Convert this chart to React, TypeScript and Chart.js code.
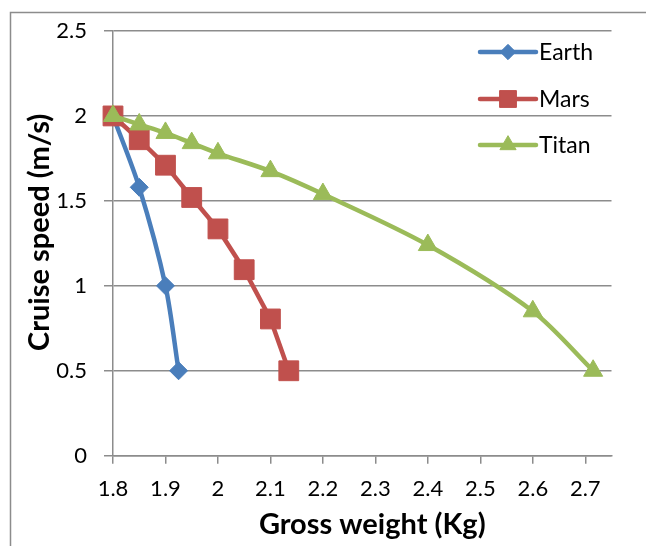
import React, { useEffect, useRef } from 'react';
import { Chart, registerables } from 'chart.js';
import { drawPoint } from 'chart.js/helpers';

Chart.register(...registerables);

const xTicks = [1.8, 1.9, 2.0, 2.1, 2.2, 2.3, 2.4, 2.5, 2.6, 2.7];
const xMin = 1.8;
const xMax = 2.75;
const yMin = 0;
const yMax = 2.5;
const yStep = 0.5;

const seriesNames = ['Earth', 'Mars', 'Titan'];

const earthX = [1.8, 1.85, 1.9, 1.925];
const earthY = [2.0, 1.58, 1.0, 0.5];

const marsX = [1.8, 1.85, 1.9, 1.95, 2.0, 2.05, 2.1, 2.135];
const marsY = [2.0, 1.86, 1.71, 1.52, 1.335, 1.095, 0.805, 0.5];

const titanX = [1.8, 1.85, 1.9, 1.95, 2.0, 2.1, 2.2, 2.4, 2.6, 2.715];
const titanY = [2.0, 1.95, 1.9, 1.84, 1.78, 1.675, 1.54, 1.24, 0.85, 0.5];

const xTitle = 'Gross weight (Kg)';
const yTitle = 'Cruise speed (m/s)';

const colors = ['#4A7EBB', '#C0504D', '#9BBB59'];
const gridColor = '#8c8c8c';
const FONT = 'Lato, "Open Sans", "Liberation Sans", sans-serif';

const toPoints = (xs: number[], ys: number[]) => xs.map((x, i) => ({ x, y: ys[i] }));
const fmt = (v: any) => String(Math.round(Number(v) * 10) / 10);

const decorPlugin = {
  id: 'decor',
  beforeDraw(chart: any) {
    const ctx = chart.ctx;
    ctx.save();
    ctx.fillStyle = '#ffffff';
    ctx.fillRect(0, 0, chart.width, chart.height);
    ctx.strokeStyle = gridColor;
    ctx.lineWidth = 1.5;
    ctx.beginPath();
    ctx.moveTo(10.5, chart.height);
    ctx.lineTo(10.5, 12.5);
    ctx.lineTo(chart.width, 12.5);
    ctx.stroke();
    ctx.restore();
  },
  afterDraw(chart: any) {
    const ctx = chart.ctx;
    const area = chart.chartArea;
    ctx.save();
    ctx.fillStyle = '#000';
    // x title
    ctx.font = `bold 29px ${FONT}`;
    ctx.textAlign = 'center';
    ctx.textBaseline = 'alphabetic';
    ctx.fillText(xTitle, (area.left + area.right) / 2 + 10, 534);
    // y title
    ctx.save();
    ctx.translate(40, (area.top + area.bottom) / 2 - 11);
    ctx.rotate(-Math.PI / 2);
    ctx.textBaseline = 'middle';
    ctx.fillText(yTitle, 0, 0);
    ctx.restore();

    // legend
    const legendYs = [52, 99, 145];
    const x0 = 480;
    const x1 = 536;
    chart.data.datasets.forEach((ds: any, i: number) => {
      const y = legendYs[i];
      ctx.strokeStyle = ds.borderColor;
      ctx.lineWidth = ds.borderWidth;
      ctx.lineCap = 'round';
      ctx.beginPath();
      ctx.moveTo(x0, y);
      ctx.lineTo(x1, y);
      ctx.stroke();
      ctx.lineCap = 'butt';
      ctx.fillStyle = ds.pointBackgroundColor;
      ctx.strokeStyle = ds.pointBorderColor;
      ctx.lineWidth = 1;
      drawPoint(ctx, {
        pointStyle: ds.pointStyle,
        rotation: 0,
        radius: ds.pointRadius * 0.85,
        borderWidth: 1,
      } as any, (x0 + x1) / 2, y);
      ctx.fillStyle = '#000';
      ctx.font = `23px ${FONT}`;
      ctx.textAlign = 'left';
      ctx.textBaseline = 'middle';
      ctx.fillText(ds.label, 539, y + 1);
    });
    ctx.restore();
  },
};

export default function App() {
  const ref = useRef<HTMLCanvasElement | null>(null);

  useEffect(() => {
    if (!ref.current) return;
    const mk = (i: number, xs: number[], ys: number[], style: string, radius: number, tension: number, order: number) => ({
      label: seriesNames[i],
      data: toPoints(xs, ys),
      showLine: true,
      borderColor: colors[i],
      backgroundColor: colors[i],
      pointBackgroundColor: colors[i],
      pointBorderColor: colors[i],
      pointBorderWidth: 1,
      borderWidth: 4.5,
      pointStyle: style,
      pointRadius: radius,
      tension,
      clip: false,
      order,
    });
    const chart = new Chart(ref.current, {
      type: 'scatter',
      data: {
        datasets: [
          mk(0, earthX, earthY, 'rectRot', 9, 0.3, 3),
          mk(1, marsX, marsY, 'rect', 14, 0, 2),
          mk(2, titanX, titanY, 'triangle', 11, 0.3, 1),
        ] as any,
      },
      options: {
        responsive: false,
        maintainAspectRatio: false,
        animation: false,
        events: [],
        layout: { padding: { left: 0, top: 31, right: 34.5, bottom: 0 } },
        plugins: {
          legend: { display: false },
          tooltip: { enabled: false },
          title: { display: false },
        },
        scales: {
          x: {
            type: 'linear',
            min: xMin,
            max: xMax,
            afterBuildTicks: (scale: any) => {
              scale.ticks = xTicks.map((v) => ({ value: v }));
            },
            afterFit: (scale: any) => {
              scale.height = 90.3;
            },
            grid: {
              display: true,
              drawOnChartArea: false,
              drawTicks: true,
              tickLength: 8,
              color: gridColor,
              lineWidth: 1.5,
            },
            border: { display: true, color: gridColor, width: 1.5 },
            ticks: {
              autoSkip: false,
              maxRotation: 0,
              padding: 12,
              color: '#000',
              font: { family: FONT, size: 22 },
              callback: fmt,
            },
          },
          y: {
            type: 'linear',
            min: yMin,
            max: yMax,
            afterFit: (scale: any) => {
              scale.width = 113;
            },
            grid: {
              display: true,
              drawTicks: true,
              tickLength: 9,
              color: gridColor,
              lineWidth: 1.5,
            },
            border: { display: true, color: gridColor, width: 1.5 },
            ticks: {
              stepSize: yStep,
              padding: 17,
              color: '#000',
              font: { family: FONT, size: 22 },
              callback: fmt,
            },
          },
        },
      } as any,
      plugins: [decorPlugin as any],
    });
    return () => chart.destroy();
  }, []);

  return (
    <div style={{ position: 'absolute', left: 0, top: 0, width: 646, height: 546 }}>
      <canvas ref={ref} width={646} height={546} style={{ display: 'block' }} />
    </div>
  );
}
